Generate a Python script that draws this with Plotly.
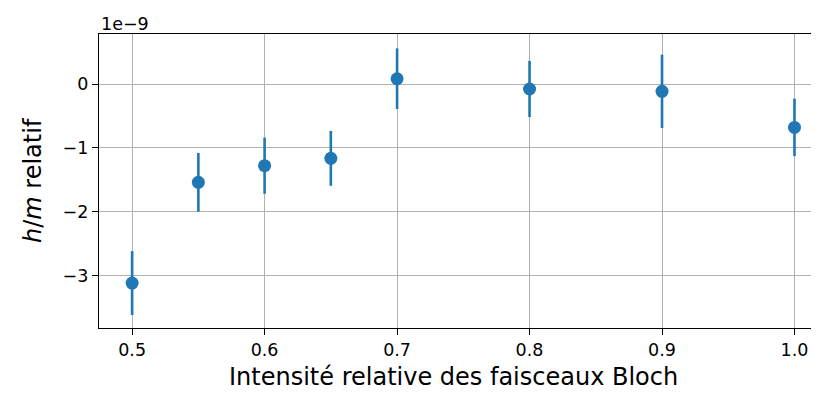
import plotly.graph_objects as go

intensite = [0.5, 0.55, 0.6, 0.65, 0.7, 0.8, 0.9, 1.0]
hm_rel = [-3.12, -1.54, -1.28, -1.165, 0.083, -0.078, -0.115, -0.68]  # units of 1e-9
hm_err = [0.50, 0.46, 0.44, 0.43, 0.475, 0.44, 0.575, 0.45]

x_ticks = [0.5, 0.6, 0.7, 0.8, 0.9, 1.0]
x_ticktext = ["0.5", "0.6", "0.7", "0.8", "0.9", "1.0"]
y_ticks = [0, -1, -2, -3]
y_ticktext = ["0", "−1", "−2", "−3"]

blue = "#1f77b4"
font = "DejaVu Sans"

# page has default 8px body margin; figure sized to fit the visible window
W, H = 811, 385
L, R, T, B = 91, 0, 26, 65

fig = go.Figure(go.Scatter(
    x=intensite, y=hm_rel, mode="markers",
    marker=dict(color=blue, size=13),
    error_y=dict(type="data", array=hm_err, color=blue, thickness=2.6, width=0),
))

fig.update_layout(
    width=W, height=H,
    margin=dict(l=L, r=R, t=T, b=B),
    paper_bgcolor="white", plot_bgcolor="white",
    showlegend=False,
    font=dict(family=font, color="black"),
    xaxis=dict(
        range=[0.475, 1.0185], tickvals=x_ticks, ticktext=x_ticktext,
        showgrid=True, gridcolor="#b0b0b0", gridwidth=1.3,
        showline=True, linecolor="black", linewidth=1.3, mirror=True,
        ticks="outside", ticklen=6, tickwidth=1.3, tickcolor="black",
        tickfont=dict(size=17.5), zeroline=False,
    ),
    yaxis=dict(
        range=[-3.824, 0.784], tickvals=y_ticks, ticktext=y_ticktext,
        showgrid=True, gridcolor="#b0b0b0", gridwidth=1.3,
        showline=True, linecolor="black", linewidth=1.3, mirror=False,
        ticks="outside", ticklen=6, tickwidth=1.3, tickcolor="black",
        tickfont=dict(size=17.5), zeroline=False,
    ),
    annotations=[
        dict(text="1e−9", xref="paper", yref="paper", x=0, y=1,
             xanchor="left", yanchor="bottom", showarrow=False,
             font=dict(size=17.5, family=font), xshift=0, yshift=-2),
        dict(text="Intensité relative des faisceaux Bloch", xref="paper", yref="paper",
             x=(445 - L) / (W - L - R), y=0, xanchor="center", yanchor="middle",
             showarrow=False, font=dict(size=24, family=font), yshift=-49),
        dict(text="<i>h</i>/<i>m</i> relatif", xref="paper", yref="paper",
             x=0, y=0.5, xanchor="center", yanchor="middle", textangle=-90,
             showarrow=False, font=dict(size=24, family=font), xshift=-(L - 25)),
    ],
)

fig.write_html("out.html")
